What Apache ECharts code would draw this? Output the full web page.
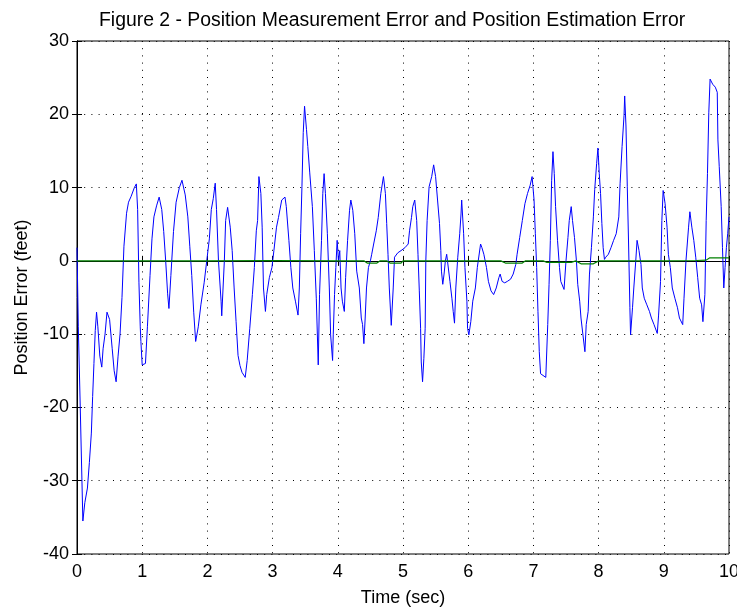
<!DOCTYPE html>
<html>
<head>
<meta charset="utf-8">
<script src="https://cdn.jsdelivr.net/npm/echarts@6/dist/echarts.min.js"></script>
<style>
  html, body { margin: 0; padding: 0; background: #fff; }
  #chart { width: 737px; height: 608px; }
</style>
</head>
<body>
<div id="chart"></div>
<script>
  const measT = [0, 0.02, 0.05, 0.09, 0.12, 0.16, 0.19, 0.22, 0.24, 0.26, 0.28, 0.3, 0.32, 0.35, 0.38, 0.4,
    0.43, 0.46, 0.5, 0.54, 0.57, 0.6, 0.63, 0.66, 0.69, 0.72, 0.76, 0.79, 0.83, 0.88, 0.91, 0.93, 0.95, 0.97,
    0.98, 1.0, 1.05, 1.08, 1.12, 1.15, 1.18, 1.22, 1.26, 1.3, 1.33, 1.36, 1.39, 1.41, 1.44, 1.48, 1.52, 1.57,
    1.61, 1.66, 1.7, 1.73, 1.76, 1.79, 1.82, 1.86, 1.9, 1.95, 1.99, 2.03, 2.06, 2.09, 2.12, 2.14, 2.17, 2.21,
    2.22, 2.26, 2.28, 2.31, 2.35, 2.38, 2.41, 2.44, 2.47, 2.5, 2.53, 2.58, 2.61, 2.65, 2.69, 2.72, 2.75, 2.77,
    2.79, 2.82, 2.84, 2.86, 2.89, 2.91, 2.95, 2.99, 3.02, 3.06, 3.09, 3.14, 3.19, 3.21, 3.25, 3.28, 3.31, 3.35,
    3.39, 3.41, 3.43, 3.45, 3.47, 3.49, 3.52, 3.54, 3.57, 3.61, 3.64, 3.67, 3.7, 3.72, 3.75, 3.77, 3.79, 3.81,
    3.84, 3.87, 3.89, 3.92, 3.93, 3.95, 3.97, 3.99, 4.01, 4.03, 4.05, 4.07, 4.1, 4.12, 4.15, 4.18, 4.2, 4.23,
    4.26, 4.29, 4.33, 4.36, 4.38, 4.4, 4.42, 4.44, 4.47, 4.5, 4.52, 4.55, 4.59, 4.62, 4.66, 4.7, 4.73, 4.75,
    4.77, 4.79, 4.82, 4.85, 4.87, 4.92, 4.97, 5.03, 5.08, 5.1, 5.13, 5.15, 5.18, 5.21, 5.23, 5.25, 5.27, 5.28,
    5.3, 5.32, 5.34, 5.35, 5.37, 5.4, 5.44, 5.47, 5.5, 5.53, 5.56, 5.58, 5.59, 5.61, 5.63, 5.65, 5.67, 5.7,
    5.72, 5.75, 5.77, 5.79, 5.81, 5.84, 5.87, 5.89, 5.9, 5.93, 5.95, 5.98, 5.99, 6.01, 6.04, 6.07, 6.11, 6.14,
    6.19, 6.21, 6.24, 6.28, 6.31, 6.35, 6.39, 6.43, 6.47, 6.49, 6.52, 6.56, 6.6, 6.65, 6.69, 6.73, 6.75, 6.79,
    6.83, 6.87, 6.91, 6.95, 6.98, 7.01, 7.03, 7.05, 7.07, 7.09, 7.11, 7.14, 7.19, 7.22, 7.24, 7.26, 7.28, 7.3,
    7.32, 7.34, 7.37, 7.4, 7.42, 7.47, 7.5, 7.53, 7.55, 7.58, 7.6, 7.63, 7.66, 7.68, 7.71, 7.73, 7.76, 7.79,
    7.81, 7.84, 7.86, 7.89, 7.92, 7.94, 7.97, 7.99, 8.01, 8.03, 8.05, 8.07, 8.09, 8.11, 8.15, 8.19, 8.23, 8.27,
    8.31, 8.33, 8.36, 8.39, 8.4, 8.42, 8.44, 8.46, 8.48, 8.49, 8.52, 8.54, 8.57, 8.59, 8.62, 8.65, 8.67, 8.7,
    8.74, 8.78, 8.81, 8.85, 8.9, 8.92, 8.95, 8.97, 8.99, 9.02, 9.05, 9.07, 9.1, 9.13, 9.17, 9.21, 9.24, 9.29,
    9.31, 9.34, 9.38, 9.4, 9.43, 9.46, 9.49, 9.52, 9.55, 9.58, 9.6, 9.63, 9.65, 9.67, 9.69, 9.71, 9.75, 9.79,
    9.82, 9.83, 9.85, 9.88, 9.9, 9.92, 9.94, 9.96, 9.98, 10];
  const measErr = [1.8, -9, -20, -35.5, -33, -31, -27.5, -23.5, -18.5, -14, -9.5, -7, -9, -13, -14.5, -12,
    -10, -7, -8, -12, -15, -16.5, -13, -10, -5, 2, 6.5, 8, 8.8, 10, 10.5, 7, -3, -9,
    -11, -14.2, -14, -9, -2, 3, 6, 7.5, 8.7, 7, 4, 0, -4.5, -6.5, -2, 4, 8, 10,
    11, 9, 6, 2, -2, -7, -11, -9, -6, -3, 0, 3, 7, 8.5, 10.6, 7, 0, -5.5,
    -7.5, 0, 5.5, 7.3, 4.6, 1.4, -3.7, -8.3, -12.9, -14.3, -15.2, -15.9, -13.6, -9.2, -4.6, -0.9, 4.1, 5.5,
    11.5, 9.2, 4.6, -3.7, -6.9, -4.6, -2.3, -0.9, 1.4, 4.6, 5.9, 8.3, 8.7, 7.4, 2.8, -0.9, -3.7, -5.5,
    -7.4, -3.7, 3.7, 10.1, 17.5, 21.1, 17.9, 15.6, 12, 7.4, 1.4, -5.1, -14.2, -4.6, 2.8, 9.2, 11.9, 9.2,
    3.7, -3.7, -10.1, -13.6, -10.1, -4.6, -0.9, 2.8, 0, 1.4, -3.7, -5.5, -6.9, -2.3, 2.8, 6.9, 8.3, 6.9,
    3.7, -1.4, -3.7, -7.8, -8.7, -11.3, -7.8, -3.7, -0.9, 0, 0.9, 2.3, 4.1, 5.9, 9.2, 11.5, 9.2, 5.1,
    0.9, -3.7, -8.8, -3.7, 0.5, 1.1, 1.4, 1.8, 2.3, 4.1, 5.9, 7.4, 8.3, 5.5, 0.9, -4.1, -9.2, -13.8,
    -16.5, -13.3, -9.2, 0, 5.5, 10.1, 11.5, 13.1, 11.5, 8.3, 5.1, 1.4, -1.4, -3.2, -1.8, 0, 0.9, 1.1,
    -2.8, -5.1, -6.9, -8.5, -3.7, 0.5, 3.7, 6.4, 8.3, 3.7, -0.9, -5.5, -9.2, -10.1, -8.3, -5.5, -3.7, -0.9,
    2.3, 1.8, 0.9, -0.9, -2.8, -4.1, -4.6, -3.7, -2.3, -1.8, -2.8, -3.0, -2.8, -2.5, -1.8, -0.5, 0.9, 3.2,
    5.5, 7.8, 9.2, 10.3, 11.5, 8.3, 3.7, -0.9, -6.9, -12.4, -15.4, -15.6, -15.9, -8.7, -3.2, 2.8, 11, 14.9,
    11.9, 7.4, 2.8, -0.9, -2.8, -3.9, 0, 3.2, 5.5, 7.4, 5.5, 3.2, 0, -3.2, -5.5, -7.8, -10.1, -12.4,
    -8.7, -6.9, -1.8, 1.8, 6, 9.7, 13.3, 15.4, 11.9, 9.2, 5.1, 1.8, 0.2, 0.5, 0.9, 1.8, 2.8, 3.7,
    6, 10.6, 15.6, 19.8, 22.5, 18.4, 10.1, 2.3, -6.4, -10.1, -6.4, -3.7, 0, 2.8, 1.4, -0.5, -3.7, -5.1,
    -6, -6.9, -7.8, -8.7, -9.9, -7.4, -2.8, 5.5, 9.6, 7.8, 4.6, 0.9, -0.9, -3.7, -5.1, -6.4, -7.8, -8.7,
    -5.1, 0, 4.6, 6.7, 4.6, 2.8, 0.5, -2.3, -5.1, -6, -8.3, -4.6, 5.5, 11.9, 20.2, 24.8, 24.1, 23.7,
    23, 16.5, 12.9, 7.4, 1.8, -3.7, -0.9, 1.8, 3.7, 6];

  // estimation error (green), stays close to zero
  const estT = [0, 1, 2, 3, 4, 4.4, 4.45, 4.6, 4.65, 4.75, 4.8, 4.97, 5.0, 5.5, 6.5, 6.57, 6.83, 6.88,
    7.15, 7.2, 7.58, 7.65, 7.73, 7.92, 8.0, 8.5, 9.0, 9.5, 9.65, 9.7, 10];
  const estErr = [0, 0, 0, 0.05, 0, 0, -0.3, -0.3, 0, 0, -0.3, -0.3, 0, 0, 0, -0.3, -0.3, 0,
    0, -0.2, -0.2, 0, -0.4, -0.4, 0, 0, 0, 0.05, 0.1, 0.4, 0.4];

  const xTicks = [0, 10, 1];      // min, max, step
  const yTicks = [-40, 30, 10];

  const font = 'Liberation Sans, Arial, sans-serif';
  const dotted = { color: '#000', width: 1, type: [1, 6.2] };

  function pairs (xs, ys) {
    return xs.map((x, i) => [x, ys[i]]);
  }

  const chart = echarts.init(document.getElementById('chart'), null, { renderer: 'canvas' });
  const option = {
    animation: false,
    backgroundColor: '#fff',
    title: {
      text: 'Figure 2 - Position Measurement Error and Position Estimation Error',
      left: 94,
      top: 6,
      textStyle: { fontFamily: font, fontSize: 19.4, fontWeight: 'normal', color: '#000' }
    },
    grid: {
      left: 77, right: 8, top: 41, bottom: 54,
      outerBoundsMode: 'none',
      show: true, borderColor: '#000', borderWidth: 1
    },
    xAxis: [
      {
        type: 'value', min: xTicks[0], max: xTicks[1], interval: xTicks[2],
        name: 'Time (sec)', nameLocation: 'middle', nameGap: 35,
        nameTextStyle: { fontFamily: font, fontSize: 18, color: '#000' },
        axisLine: { lineStyle: { color: '#000' } },
        axisTick: { inside: true, length: 5, lineStyle: { color: '#000' } },
        axisLabel: { fontFamily: font, fontSize: 18, color: '#000', margin: 9 },
        splitLine: { show: true, lineStyle: dotted }
      },
      {
        type: 'value', position: 'top', min: xTicks[0], max: xTicks[1], interval: xTicks[2],
        axisLine: { show: true, lineStyle: { color: '#000' } },
        axisTick: { inside: true, length: 5, lineStyle: { color: '#000' } },
        axisLabel: { show: false },
        splitLine: { show: false }
      }
    ],
    yAxis: [
      {
        type: 'value', min: yTicks[0], max: yTicks[1], interval: yTicks[2],
        name: 'Position Error (feet)', nameLocation: 'middle', nameGap: 46,
        nameTextStyle: { fontFamily: font, fontSize: 18, color: '#000' },
        axisLine: { show: true, lineStyle: { color: '#000' } },
        axisTick: { show: true, inside: true, length: 5, lineStyle: { color: '#000' } },
        axisLabel: { fontFamily: font, fontSize: 18, color: '#000', margin: 8 },
        splitLine: { show: true, lineStyle: dotted }
      },
      {
        type: 'value', position: 'right', min: yTicks[0], max: yTicks[1], interval: yTicks[2],
        axisLine: { show: true, lineStyle: { color: '#000' } },
        axisTick: { show: true, inside: true, length: 5, lineStyle: { color: '#000' } },
        axisLabel: { show: false },
        splitLine: { show: false }
      }
    ],
    series: [
      {
        name: 'Measurement Error',
        type: 'line',
        showSymbol: false,
        data: pairs(measT, measErr),
        lineStyle: { color: '#0000ff', width: 1 },
        itemStyle: { color: '#0000ff' },
        z: 2
      },
      {
        name: 'Estimation Error',
        type: 'line',
        showSymbol: false,
        data: pairs(estT, estErr),
        lineStyle: { color: '#008000', width: 1.2 },
        itemStyle: { color: '#008000' },
        z: 3
      }
    ]
  };
  chart.setOption(option);
</script>
</body>
</html>
